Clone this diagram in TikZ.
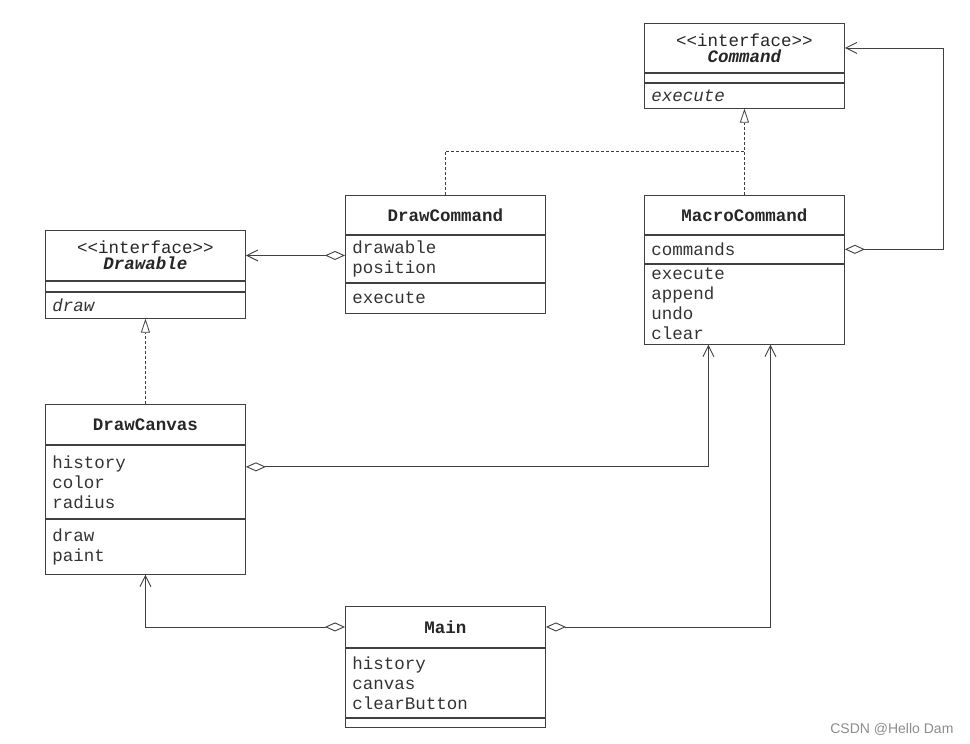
\documentclass[tikz,border=0pt]{standalone}
\usepackage{fontspec}
\setmonofont{Liberation Mono}
\newfontfamily\marksans{Liberation Sans}
\usetikzlibrary{arrows.meta, positioning}

\begin{document}
\begin{tikzpicture}[x=1pt, y=-1pt]
\tikzset{
  head/.style={draw=black!75, line width=0.9pt, minimum width=200pt, minimum height=#1, inner sep=0pt, align=center, text=black!85, font=\ttfamily\fontsize{17.5}{20}\selectfont},
  part/.style={draw=black!75, line width=0.9pt, minimum width=200pt, minimum height=#1, text width=186pt, inner xsep=7pt, inner ysep=0pt, align=left, text=black!80, font=\ttfamily\fontsize{17.5}{20}\selectfont},
  dashline/.style={draw=black!75, line width=0.8pt, dash pattern=on 3pt off 2pt},
  realize/.style={dashline, -{Triangle[open, length=14pt, width=9pt]}},
  aggr/.style={draw=black!75, line width=0.9pt, {Diamond[open, length=20pt, width=9pt]}-{Straight Barb[length=11pt, width=11pt]}}
}
\useasboundingbox (0,0) rectangle (970,744);

\node[head=49pt, anchor=north west] (cmdHead) at (644,23) {<<interface>>\\[-4pt]\textbf{\textit{Command}}};
\node[part=9pt, below=0pt of cmdHead] (cmdAttr) {};
\node[part=25pt, below=0pt of cmdAttr] (cmdOps) {\textit{execute}};

\node[head=39pt, anchor=north west] (mcHead) at (644,195) {\textbf{MacroCommand}};
\node[part=28pt, below=0pt of mcHead] (mcAttr) {commands};
\node[part=80pt, below=0pt of mcAttr] (mcOps) {execute\\append\\undo\\clear};

\node[head=39pt, anchor=north west] (dcHead) at (345,195) {\textbf{DrawCommand}};
\node[part=47pt, below=0pt of dcHead] (dcAttr) {drawable\\position};
\node[part=30pt, below=0pt of dcAttr] (dcOps) {execute};

\node[head=50pt, anchor=north west] (dwHead) at (45,230) {<<interface>>\\[-4pt]\textbf{\textit{Drawable}}};
\node[part=10pt, below=0pt of dwHead] (dwAttr) {};
\node[part=26pt, below=0pt of dwAttr] (dwOps) {\textit{draw}};

\node[head=40pt, anchor=north west] (dcvHead) at (45,404) {\textbf{DrawCanvas}};
\node[part=73pt, below=0pt of dcvHead] (dcvAttr) {history\\color\\radius};
\node[part=55pt, below=0pt of dcvAttr] (dcvOps) {draw\\paint};

\node[head=41pt, anchor=north west] (mainHead) at (345,606) {\textbf{Main}};
\node[part=69pt, below=0pt of mainHead] (mainAttr) {history\\canvas\\clearButton};
\node[part=9pt, below=0pt of mainAttr] (mainOps) {};

\coordinate (join) at (744,151);

\draw[realize] (mcHead.north) -- (cmdOps.south);
\draw[dashline] (dcHead.north) |- (join);
\draw[realize] (dcvHead.north) -- (dwOps.south);

\draw[aggr] (mcAttr.east) -- ++(99,0) |- (cmdHead.east);
\draw[aggr] (dcAttr.west |- dwHead.east) -- (dwHead.east);
\draw[aggr] ([yshift=15pt]dcvAttr.east) -| ([xshift=-36pt]mcOps.south);
\draw[aggr] (mainHead.east) -| ([xshift=26pt]mcOps.south);
\draw[aggr] (mainHead.west) -| (dcvOps.south);

\node[anchor=east, text=black!45, font=\marksans\fontsize{14}{16}\selectfont] (mark) at (957,729) {CSDN @Hello Dam};
\end{tikzpicture}
\end{document}
